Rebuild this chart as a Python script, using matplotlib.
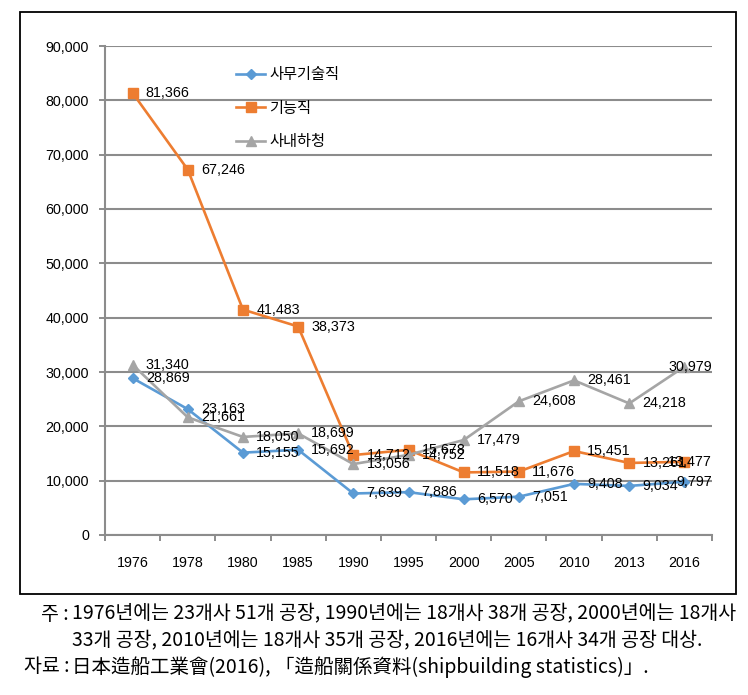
import matplotlib
matplotlib.use("Agg")
import matplotlib.pyplot as plt
from matplotlib.patches import Rectangle

years = ["1976", "1978", "1980", "1985", "1990", "1995", "2000", "2005", "2010", "2013", "2016"]
office = [28869, 23163, 15155, 15692, 7639, 7886, 6570, 7051, 9408, 9034, 9797]
skilled = [81366, 67246, 41483, 38373, 14712, 15678, 11518, 11676, 15451, 13261, 13477]
subcon = [31340, 21661, 18050, 18699, 13056, 14752, 17479, 24608, 28461, 24218, 30979]
series_names = ["사무기술직", "기능직", "사내하청"]
yticks = list(range(0, 90001, 10000))

colors = ["#5B9BD5", "#ED7D31", "#A5A5A5"]
markers = ["D", "s", "^"]
msizes = [5.0, 7.0, 7.0]

W, H = 748, 695
fig = plt.figure(figsize=(W / 100, H / 100), dpi=100)
ax = fig.add_axes([105 / W, (H - 535) / H, (712 - 105) / W, (535 - 46) / H])

num_font = "Liberation Sans"
kr_font = ["Noto Sans CJK KR", "DejaVu Sans"]
grid_c = "#8C8C8C"
lab_size = 10.3

x = list(range(len(years)))
for vals, c, m, ms, name in zip([office, skilled, subcon], colors, markers, msizes, series_names):
    ax.plot(x, vals, color=c, marker=m, markersize=ms, linewidth=1.9, label=name,
            markeredgecolor=c, zorder=3)

# data labels
for vals in [office, skilled, subcon]:
    for i, v in enumerate(vals):
        txt = f"{v:,}"
        if i == len(vals) - 1:
            ax.annotate(txt, xy=(1.0, v), xycoords=ax.get_yaxis_transform(),
                        ha="right", va="center", fontsize=lab_size, family=num_font,
                        zorder=5, annotation_clip=False)
        else:
            ax.annotate(txt, xy=(i, v), xytext=(9.5, 0), textcoords="offset points",
                        ha="left", va="center", fontsize=lab_size, family=num_font, zorder=5)

ax.set_xlim(-0.5, len(years) - 0.5)
ax.set_ylim(0, 90000)
ax.set_yticks(yticks)
ax.set_yticklabels([f"{t:,}" for t in yticks], family=num_font, fontsize=lab_size)
ax.set_xticks([i - 0.5 for i in range(len(years) + 1)])
ax.set_xticklabels([])
ax.set_xticks(x, minor=True)
ax.set_xticklabels(years, minor=True, family=num_font, fontsize=lab_size)
ax.tick_params(axis="x", which="minor", length=0, pad=15)
ax.tick_params(axis="x", which="major", length=4.5, width=1.4, color=grid_c, direction="out")
ax.tick_params(axis="y", length=4.5, width=1.4, color=grid_c, direction="out", pad=7)

ax.grid(axis="y", color=grid_c, linewidth=1.5, zorder=0)
ax.set_axisbelow(True)
for s in ["top", "right"]:
    ax.spines[s].set_visible(False)
for s in ["left", "bottom"]:
    ax.spines[s].set_color(grid_c)
    ax.spines[s].set_linewidth(1.5)

leg = ax.legend(loc="upper left", bbox_to_anchor=((230 - 105) / (712 - 105), 1 - (60 - 46) / (535 - 46)),
                frameon=False, prop={"family": kr_font, "size": 11}, handlelength=1.9,
                handletextpad=0.25, labelspacing=1.08, borderaxespad=0)

# outer frame
fig.patches.append(Rectangle((20 / W, (H - 594) / H), (736 - 20) / W, (594 - 12) / H,
                             transform=fig.transFigure, fill=False, edgecolor="black",
                             linewidth=1.3))

# footnotes
fn = dict(family=kr_font, fontsize=14, va="center", color="black")
fig.text(69 / W, 1 - 614 / H, "주 :", ha="right", **fn)
fig.text(72 / W, 1 - 614 / H, "1976년에는 23개사 51개 공장, 1990년에는 18개사 38개 공장, 2000년에는 18개사", ha="left", **fn)
fig.text(72 / W, 1 - 641 / H, "33개 공장, 2010년에는 18개사 35개 공장, 2016년에는 16개사 34개 공장 대상.", ha="left", **fn)
fig.text(69 / W, 1 - 667 / H, "자료 :", ha="right", **fn)
fig.text(72 / W, 1 - 667 / H, "日本造船工業會(2016), 「造船關係資料(shipbuilding statistics)」.", ha="left", **fn)

fig.savefig("out.png", dpi=100)
